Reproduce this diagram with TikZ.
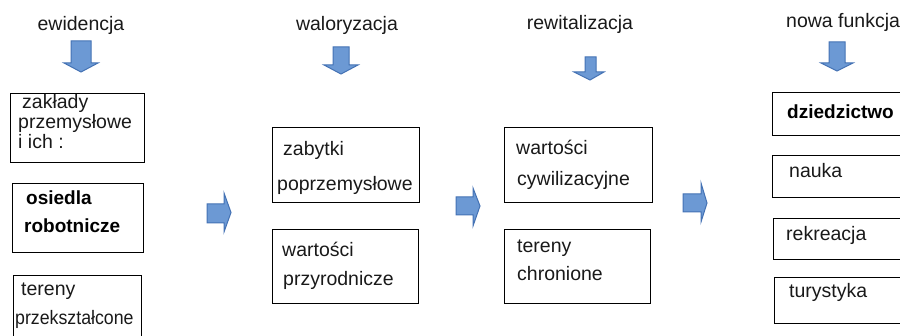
\documentclass[tikz,border=0pt]{standalone}
\usepackage{fontspec}
\setmainfont{Liberation Sans}
\definecolor{arrfill}{RGB}{108,153,212}
\definecolor{arrline}{RGB}{68,114,180}
\definecolor{txtcol}{RGB}{25,25,25}
\begin{document}
\begin{tikzpicture}[x=1pt,y=-1pt,
  box/.style={draw=black, line width=1.3pt, minimum width=#1, anchor=north west, inner sep=0pt},
  txt/.style={anchor=mid west, inner sep=0pt, text=txtcol, font=\fontsize{19.5}{22}\selectfont},
  btxt/.style={anchor=mid west, inner sep=0pt, text=black, font=\fontsize{19}{22}\selectfont\bfseries},
  head/.style={anchor=mid, inner sep=0pt, text=txtcol, font=\fontsize{19.5}{22}\selectfont},
  blockarrow/.style={fill=arrfill, draw=arrline, line width=1pt, line join=miter}]
\useasboundingbox (0,0) rectangle (900,336);

% headings
\node[head] (h1) at (81,27.5) {ewidencja};
\node[head] (h2) at (347,28) {waloryzacja};
\node[head] (h3) at (580,27) {rewitalizacja};
\node[head, anchor=mid west] (h4) at (786,25) {nowa funkcja};

% down arrows
\path[blockarrow] (71,41)--(91,41)--(91,63)--(98,63)--(81,72)--(64,63)--(71,63)--cycle;
\path[blockarrow] (333,47)--(349,47)--(349,65)--(358,65)--(341,74)--(324,65)--(333,65)--cycle;
\path[blockarrow] (585,57)--(596,57)--(596,72)--(604,72)--(590,80)--(574,72)--(585,72)--cycle;
\path[blockarrow] (829,42)--(845,42)--(845,63)--(853,63)--(837,71)--(821,63)--(829,63)--cycle;

% right arrows
\path[blockarrow] (207,204)--(224,204)--(224,193)--(231,212.5)--(224,232)--(224,223)--(207,223)--cycle;
\path[blockarrow] (456,197)--(473,197)--(473,188)--(480,206)--(473,226)--(473,215)--(456,215)--cycle;
\path[blockarrow] (683,194)--(701,194)--(701,183)--(707,203)--(701,222)--(701,212)--(683,212)--cycle;

% column 1
\node[box=134pt, minimum height=69pt] (b11) at (10,93) {};
\node[txt] (t111) at (22,106) {zakłady};
\node[txt] (t112) at (18,125.5) {przemysłowe};
\node[txt] (t113) at (18,146) {i ich :};

\node[box=131pt, minimum height=69pt] (b12) at (12,183) {};
\node[btxt] (t121) at (26,202) {osiedla};
\node[btxt] (t122) at (24,230) {robotnicze};

\node[box=128pt, minimum height=80pt] (b13) at (13,275) {};
\node[txt] (t131) at (21,293) {tereny};
\node[txt, font=\fontsize{19.5}{22}\selectfont\addfontfeature{FakeStretch=0.91}] (t132) at (15,322) {przekształcone};

% column 2
\node[box=147pt, minimum height=75pt] (b21) at (272,127) {};
\node[txt] (t211) at (283,153) {zabytki};
\node[txt] (t212) at (277,188) {poprzemysłowe};

\node[box=146pt, minimum height=74pt] (b22) at (272,229) {};
\node[txt] (t221) at (282,254) {wartości};
\node[txt] (t222) at (283,283) {przyrodnicze};

% column 3
\node[box=148pt, minimum height=75pt] (b31) at (504,127) {};
\node[txt] (t311) at (516,152) {wartości};
\node[txt] (t312) at (517,183) {cywilizacyjne};

\node[box=146pt, minimum height=74pt] (b32) at (504,229) {};
\node[txt] (t321) at (517,250) {tereny};
\node[txt] (t322) at (517,278) {chronione};

% column 4
\node[box=140pt, minimum height=43pt] (b41) at (772,92) {};
\node[btxt] (t41) at (787,116) {dziedzictwo};
\node[box=140pt, minimum height=42pt] (b42) at (772,155) {};
\node[txt] (t42) at (789,175) {nauka};
\node[box=140pt, minimum height=41pt] (b43) at (773,218) {};
\node[txt] (t43) at (786,238) {rekreacja};
\node[box=140pt, minimum height=46pt] (b44) at (774,277) {};
\node[txt] (t44) at (789,295) {turystyka};
\end{tikzpicture}
\end{document}
